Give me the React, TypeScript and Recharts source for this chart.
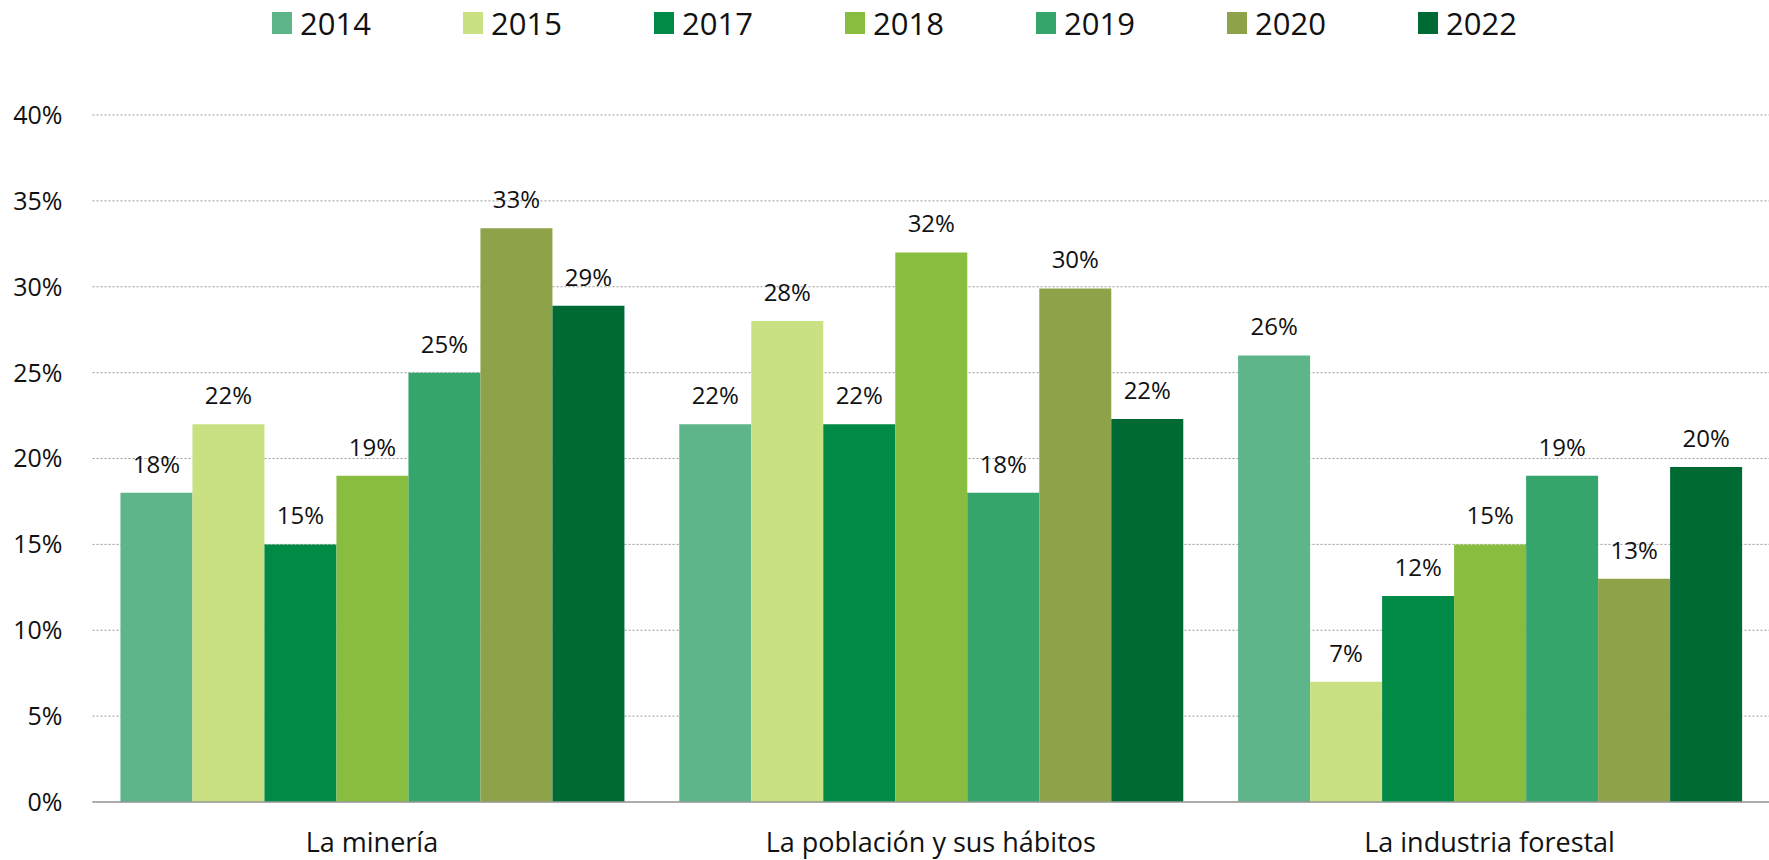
import React from "react";
import { BarChart, Bar, XAxis, YAxis, CartesianGrid, Legend, LabelList } from "recharts";

const categories = ["La minería", "La población y sus hábitos", "La industria forestal"];
const years = ["2014", "2015", "2017", "2018", "2019", "2020", "2022"];
const v2014 = [18, 22, 26];
const v2015 = [22, 28, 7];
const v2017 = [15, 22, 12];
const v2018 = [19, 32, 15];
const v2019 = [25, 18, 19];
const v2020 = [33.4, 29.9, 13];
const v2022 = [28.9, 22.3, 19.5];
const yTicks = [0, 5, 10, 15, 20, 25, 30, 35, 40];
const colors = ["#5DB589", "#C9E182", "#008A45", "#88BD40", "#35A56B", "#8EA349", "#006A35"];

const seriesValues = [v2014, v2015, v2017, v2018, v2019, v2020, v2022];
const data = categories.map((c, i) => {
  const row: Record<string, string | number> = { name: c };
  years.forEach((y, k) => {
    row[y] = seriesValues[k][i];
  });
  return row;
});

const FONT = "'Open Sans', 'Noto Sans', sans-serif";

const LegendContent = () => (
  <div style={{ display: "flex", height: 46, alignItems: "center", paddingLeft: 272, fontFamily: FONT }}>
    {years.map((y, i) => (
      <div key={y} style={{ display: "flex", alignItems: "center", width: 191 }}>
        <div style={{ width: 20, height: 22, background: colors[i], marginRight: 8 }} />
        <span style={{ fontSize: 31, color: "#111", lineHeight: "31px" }}>{y}</span>
      </div>
    ))}
  </div>
);

export default function App() {
  return (
    <div style={{ position: "absolute", left: 0, top: 0, background: "#fff" }}>
      <BarChart
        width={1769}
        height={860}
        data={data}
        margin={{ top: 69, right: 0, left: 0, bottom: 0 }}
        barCategoryGap="5%"
        barGap={0}
      >
        <Legend
          verticalAlign="top"
          wrapperStyle={{ top: 0, left: 0, width: 1769 }}
          content={<LegendContent />}
        />
        <CartesianGrid vertical={false} stroke="#9a9a9a" strokeDasharray="2 2" />
        <XAxis
          dataKey="name"
          height={58}
          tickLine={false}
          tickSize={0}
          tickMargin={31}
          axisLine={{ stroke: "#999", strokeWidth: 1.5 }}
          tick={{ fontSize: 27, fill: "#111", fontFamily: FONT }}
        />
        <YAxis
          width={92.5}
          domain={[0, 40]}
          ticks={yTicks}
          interval={0}
          axisLine={false}
          tickLine={false}
          tickSize={0}
          tickMargin={30}
          tickFormatter={(v: number) => `${v}%`}
          tick={{ fontSize: 25, fill: "#111", fontFamily: FONT }}
        />
        {years.map((y, i) => (
          <Bar key={y} dataKey={y} fill={colors[i]} isAnimationActive={false}>
            <LabelList
              dataKey={y}
              position="top"
              offset={20}
              formatter={(v: number) => `${Math.round(v)}%`}
              style={{ fontSize: 24, fill: "#111", fontFamily: FONT }}
            />
          </Bar>
        ))}
      </BarChart>
    </div>
  );
}
